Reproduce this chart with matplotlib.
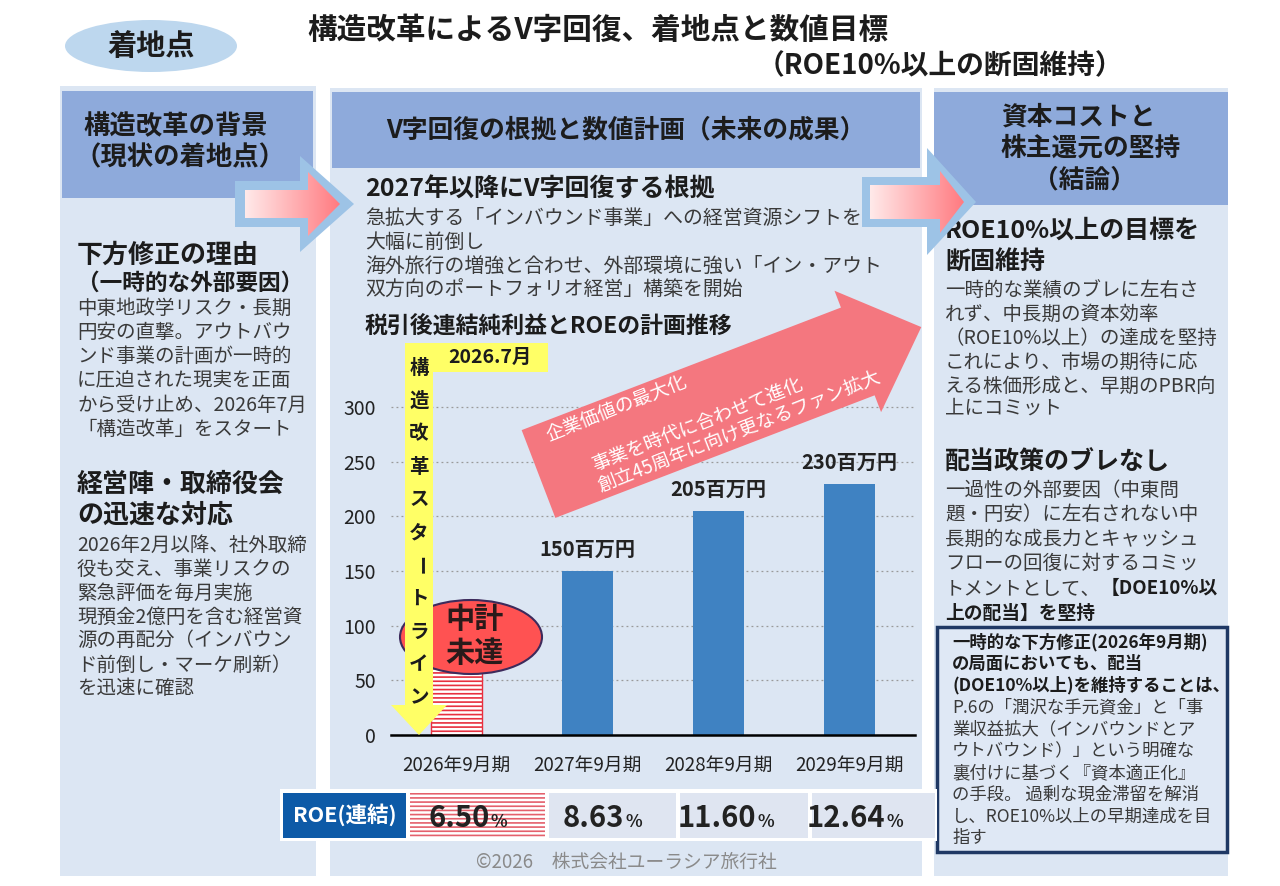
import matplotlib
matplotlib.use('Agg')
import matplotlib.pyplot as plt
import numpy as np
from matplotlib.patches import Rectangle, Polygon, Ellipse
from matplotlib.colors import LinearSegmentedColormap

plt.rcParams['font.family'] = ['Noto Sans CJK JP', 'DejaVu Sans']
plt.rcParams['hatch.linewidth'] = 1.2

# ---------------- DATA ----------------
categories = ['2026年9月期', '2027年9月期', '2028年9月期', '2029年9月期']
net_profit = [90, 150, 205, 230]          # first bar mostly hidden behind the badge
profit_unit = '百万円'
roe_label = 'ROE(連結)'
roe_values = ['6.50', '8.63', '11.60', '12.64']
y_ticks = [0, 50, 100, 150, 200, 250, 300]

title_main = '構造改革によるV字回復、着地点と数値目標'
title_sub = '（ROE10%以上の断固維持）'
badge_text = '着地点'

left_header = ['構造改革の背景', '（現状の着地点）']
mid_header = 'V字回復の根拠と数値計画（未来の成果）'
right_header = ['資本コストと', '株主還元の堅持', '（結論）']

left_h1 = '下方修正の理由'
left_h1b = '（一時的な外部要因）'
left_body1 = ['中東地政学リスク・長期', '円安の直撃。アウトバウ', 'ンド事業の計画が一時的',
              'に圧迫された現実を正面', 'から受け止め、2026年7月', '「構造改革」をスタート']
left_h2 = ['経営陣・取締役会', 'の迅速な対応']
left_body2 = ['2026年2月以降、社外取締', '役も交え、事業リスクの', '緊急評価を毎月実施',
              '現預金2億円を含む経営資', '源の再配分（インバウン', 'ド前倒し・マーケ刷新）', 'を迅速に確認']

mid_h1 = '2027年以降にV字回復する根拠'
mid_body = ['急拡大する「インバウンド事業」への経営資源シフトを', '大幅に前倒し',
            '海外旅行の増強と合わせ、外部環境に強い「イン・アウト', '双方向のポートフォリオ経営」構築を開始']
mid_h2 = '税引後連結純利益とROEの計画推移'

start_month = '2026.7月'
start_line = '構造改革スタートライン'
badge_miss = '中計\n未達'
arrow_texts = ['企業価値の最大化', '事業を時代に合わせて進化', '創立45周年に向け更なるファン拡大']

right_h1 = ['ROE10%以上の目標を', '断固維持']
right_body1 = ['一時的な業績のブレに左右さ', 'れず、中長期の資本効率', '（ROE10%以上）の達成を堅持',
               'これにより、市場の期待に応', 'える株価形成と、早期のPBR向', '上にコミット']
right_h2 = '配当政策のブレなし'
right_body2 = ['一過性の外部要因（中東問', '題・円安）に左右されない中', '長期的な成長力とキャッシュ',
               'フローの回復に対するコミッ']
right_body2_mixed = ('トメントとして、', '【DOE10%以')
right_body2_last = '上の配当】を堅持'

box_lines_bold = ['一時的な下方修正(2026年9月期)', 'の局面においても、配当', '(DOE10%以上)を維持することは、']
box_lines = ['P.6の「潤沢な手元資金」と「事', '業収益拡大（インバウンドとア', 'ウトバウンド）」という明確な',
             '裏付けに基づく『資本適正化』', 'の手段。 過剰な現金滞留を解消', 'し、ROE10%以上の早期達成を目', '指す']
footer = '©2026　株式会社ユーラシア旅行社'

# ---------------- STYLE ----------------
W, H = 1280, 886
panel_bg = '#dce6f3'
header_c = '#8eaadb'
dark = '#1c1c1c'
body_c = '#3a3a3a'

fig = plt.figure(figsize=(W / 100, H / 100), dpi=100)
fig.patch.set_facecolor('white')

bg = fig.add_axes([0, 0, 1, 1], zorder=0)
bg.set_xlim(0, W); bg.set_ylim(H, 0); bg.axis('off')

def rect(ax, x0, y0, x1, y1, **kw):
    ax.add_patch(Rectangle((x0, y0), x1 - x0, y1 - y0, **kw))

# badge + title
bg.add_patch(Ellipse((151, 46), 172, 52, fc='#bdd7ee', ec='none'))
bg.text(151, 46, badge_text, ha='center', va='center', fontsize=21, fontweight='bold', color=dark)
bg.text(307, 30, title_main, ha='left', va='center', fontsize=21.3, fontweight='bold', color=dark)
bg.text(757, 66, title_sub, ha='left', va='center', fontsize=20, fontweight='bold', color=dark)

# panels
rect(bg, 60, 86, 316, 876, fc=panel_bg, ec='none')
rect(bg, 62, 91, 313, 198, fc=header_c, ec='none')
rect(bg, 330, 88, 922, 876, fc=panel_bg, ec='none')
rect(bg, 332, 92, 920, 168, fc=header_c, ec='none')
rect(bg, 934, 88, 1228, 876, fc=panel_bg, ec='none')
rect(bg, 934, 92, 1228, 205, fc=header_c, ec='none')

# header texts
bg.text(176, 127, left_header[0], ha='center', va='center', fontsize=19, fontweight='bold', color=dark)
bg.text(180, 158, left_header[1], ha='center', va='center', fontsize=19, fontweight='bold', color=dark)
bg.text(626, 130, mid_header, ha='center', va='center', fontsize=18.5, fontweight='bold', color=dark)
for txt, yy, xx in zip(right_header, [117, 148, 180], [1078, 1091, 1085]):
    bg.text(xx, yy, txt, ha='center', va='center', fontsize=18.5, fontweight='bold', color=dark)

# left panel texts
lx = 77
bg.text(lx, 255, left_h1, ha='left', va='center', fontsize=18.7, fontweight='bold', color=dark)
bg.text(lx, 283, left_h1b, ha='left', va='center', fontsize=16.3, fontweight='bold', color=dark)
for txt, yy in zip(left_body1, [308, 332, 356, 380, 405, 429]):
    bg.text(lx, yy, txt, ha='left', va='center', fontsize=14, color=body_c)
for txt, yy in zip(left_h2, [484, 515]):
    bg.text(lx, yy, txt, ha='left', va='center', fontsize=18.7, fontweight='bold', color=dark)
for txt, yy in zip(left_body2, [545, 569, 593, 617, 641, 665, 688]):
    bg.text(lx, yy, txt, ha='left', va='center', fontsize=14, color=body_c)

# middle texts
mx = 365
bg.text(mx, 190, mid_h1, ha='left', va='center', fontsize=18, fontweight='bold', color=dark)
for txt, yy in zip(mid_body, [218, 242, 266, 290]):
    bg.text(mx, yy, txt, ha='left', va='center', fontsize=14.3, color=body_c)
bg.text(mx, 326, mid_h2, ha='left', va='center', fontsize=16.5, fontweight='bold', color=dark)

# right texts
rx = 945
for txt, yy in zip(right_h1, [231, 262]):
    bg.text(rx, yy, txt, ha='left', va='center', fontsize=18, fontweight='bold', color=dark)
for txt, yy in zip(right_body1, [290, 314, 338, 362, 386, 408]):
    bg.text(rx, yy, txt, ha='left', va='center', fontsize=14, color=body_c)
bg.text(rx, 463, right_h2, ha='left', va='center', fontsize=18, fontweight='bold', color=dark)
for txt, yy in zip(right_body2, [490, 514, 539, 563]):
    bg.text(rx, yy, txt, ha='left', va='center', fontsize=14, color=body_c)
t1 = bg.text(rx, 589, right_body2_mixed[0], ha='left', va='center', fontsize=14, color=body_c)
bg.annotate(right_body2_mixed[1], xy=(1, 0.5), xycoords=t1, ha='left', va='center',
            fontsize=13.5, fontweight='bold', color=dark)
bg.text(rx, 613, right_body2_last, ha='left', va='center', fontsize=13.5, fontweight='bold', color=dark)

# right bottom box
rect(bg, 937, 627, 1227, 852, fc='#dfe8f5', ec='#1f3864', lw=2.5)
by = 642
for txt in box_lines_bold:
    bg.text(952, by, txt, ha='left', va='center', fontsize=12.5, fontweight='bold', color=dark)
    by += 21.8
for txt in box_lines:
    bg.text(952, by, txt, ha='left', va='center', fontsize=12.5, color=body_c)
    by += 21.8

# ROE row
rect(bg, 280, 789, 937, 841, fc='white', ec='none')
rect(bg, 283, 793, 406, 838, fc='#0d5aa7', ec='none')
bg.text(345, 815, roe_label, ha='center', va='center', fontsize=15.5, fontweight='bold', color='white')
cells = [(410, 545), (549, 676), (680, 808), (812, 935)]
for i, ((c0, c1), val) in enumerate(zip(cells, roe_values)):
    if i == 0:
        rect(bg, c0, 793, c1, 838, fc='white', ec='#e4606c', lw=0, hatch='----')
    else:
        rect(bg, c0, 793, c1, 838, fc='#dfe5f1', ec='none')
    cx = (c0 + c1) / 2 + 12
    bg.text(cx, 827, val, ha='right', va='baseline', fontsize=21, fontweight='bold', color='#222222')
    bg.text(cx + 1, 827, '%', ha='left', va='baseline', fontsize=12.5, fontweight='bold', color='#222222')

bg.text(626, 862, footer, ha='center', va='center', fontsize=13.5, color='#8a8a8a')

# gradient arrows
pink_cmap = LinearSegmentedColormap.from_list('pk', ['#ffeaea', '#ff7a80'])
def grad_arrow(outer, inner):
    bg.add_patch(Polygon(outer, closed=True, fc='#9dc3e6', ec='none', zorder=5))
    poly = Polygon(inner, closed=True, fc='none', ec='none', zorder=6)
    bg.add_patch(poly)
    xs = [p[0] for p in inner]; ys = [p[1] for p in inner]
    grad = np.linspace(0, 1, 256).reshape(1, -1)
    im = bg.imshow(grad, cmap=pink_cmap, extent=(min(xs), max(xs), max(ys), min(ys)),
                   aspect='auto', zorder=6, interpolation='bilinear')
    im.set_clip_path(poly)

grad_arrow([(235, 181), (300, 181), (300, 156), (354, 204), (300, 252), (300, 227), (235, 227)],
           [(245, 190), (308, 190), (308, 172), (340, 204), (308, 236), (308, 218), (245, 218)])
grad_arrow([(862, 177), (927, 177), (927, 148), (976, 202), (927, 255), (927, 227), (862, 227)],
           [(870, 185), (940, 185), (940, 171), (964, 202), (940, 233), (940, 219), (870, 219)])
bg.set_xlim(0, W); bg.set_ylim(H, 0)

# ---------------- CHART ----------------
px_per_unit = 1.0933
y_top_val = 310
ax_left, ax_right, ax_base = 391, 915, 735
ax_top = ax_base - y_top_val * px_per_unit
ax = fig.add_axes([ax_left / W, 1 - ax_base / H, (ax_right - ax_left) / W, (ax_base - ax_top) / H], zorder=1)
ax.set_facecolor('none')
ax.set_xlim(-0.5, 3.5)
ax.set_ylim(0, y_top_val)
x = np.arange(len(categories))
bw = 0.39
ax.bar(x[0], net_profit[0], bw, facecolor='white', edgecolor='#e8303f', hatch='----', lw=1.0, zorder=2)
ax.bar(x[1:], net_profit[1:], bw, color='#3f82c2', zorder=2)
for i in range(1, len(categories)):
    ax.annotate(f'{net_profit[i]}{profit_unit}', (x[i], net_profit[i]), xytext=(0, 8),
                textcoords='offset points', ha='center', va='bottom', fontsize=14.5,
                fontweight='bold', color='#222222')
ax.set_yticks(y_ticks)
ax.set_xticks(x)
ax.set_xticklabels(categories)
ax.yaxis.grid(True, linestyle=(0, (1.5, 2.5)), color='#9a9a9a', lw=0.9)
ax.set_axisbelow(True)
for s in ['top', 'right', 'left']:
    ax.spines[s].set_visible(False)
ax.spines['bottom'].set_color('black')
ax.spines['bottom'].set_linewidth(1.8)
ax.tick_params(axis='both', length=0, labelsize=13.5, colors='#222222')
ax.tick_params(axis='y', pad=11, labelsize=14)
ax.tick_params(axis='x', pad=14)

# ---------------- OVERLAY ----------------
ov = fig.add_axes([0, 0, 1, 1], zorder=2)
ov.set_facecolor('none')
ov.set_xlim(0, W); ov.set_ylim(H, 0); ov.axis('off')

# big pink arrow
ang = 21.0
a = np.deg2rad(ang)
d = np.array([np.cos(a), -np.sin(a)])
n = np.array([np.sin(a), np.cos(a)])
p0 = np.array([538.5, 474.0])
L, hw, hl, hh = 410, 47, 68, 65
tip = p0 + d * L
base = p0 + d * (L - hl)
pts = [p0 - n * hw, base - n * hw, base - n * hh, tip, base + n * hh, base + n * hw, p0 + n * hw]
ov.add_patch(Polygon(pts, closed=True, fc='#f4777f', ec='none', zorder=3))
for txt, (s, t) in zip(arrow_texts, [(96, -33), (166, 11), (203, 33)]):
    pos = p0 + d * s + n * t
    ov.text(pos[0], pos[1], txt, ha='center', va='center', rotation=21.5, rotation_mode='anchor',
            fontsize=13.5, color='white', zorder=4)

# badge "中計未達"
ov.add_patch(Ellipse((471, 637), 142, 74, fc='#ff5252', ec='#3d2b5c', lw=1.5, zorder=5))
ov.text(474, 636, badge_miss, ha='center', va='center', fontsize=21, fontweight='bold',
        color='#2a1a1a', linespacing=1.15, zorder=7)

# yellow start line
ypoly = [(405, 343), (548, 343), (548, 372), (433, 372), (433, 705), (447, 705),
         (419, 735), (391, 705), (405, 705)]
ov.add_patch(Polygon(ypoly, closed=True, fc='#ffff66', ec='none', zorder=6))
ov.text(490, 357, start_month, ha='center', va='center', fontsize=14, fontweight='bold', color=dark, zorder=7)
for k, ch in enumerate(start_line):
    rot = -90 if ch == 'ー' else 0
    ov.text(419, 368 + 33 * k, ch, ha='center', va='center', fontsize=14, fontweight='bold',
            color=dark, rotation=rot, zorder=7)

fig.savefig('out.png', dpi=100, facecolor='white')
